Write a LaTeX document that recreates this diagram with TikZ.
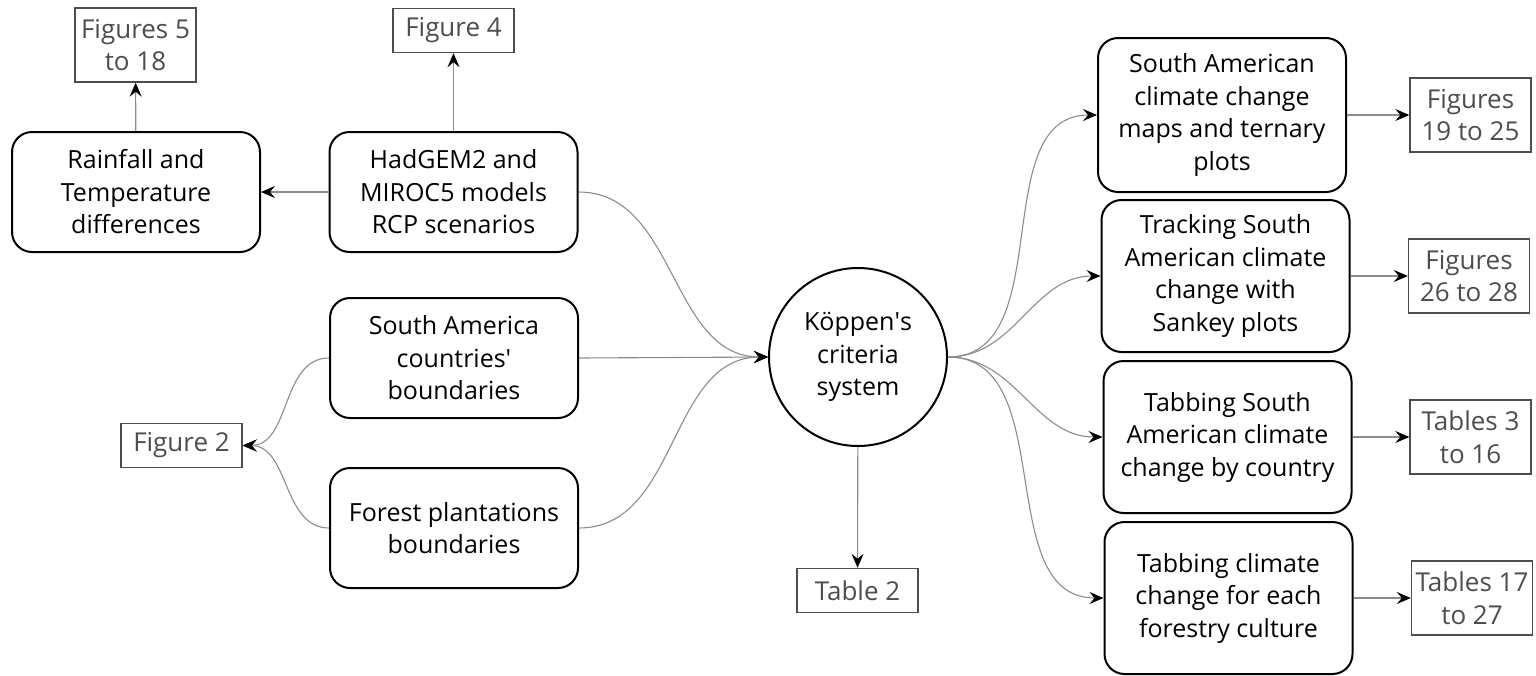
\documentclass[tikz,border=0pt]{standalone}
\usepackage{fontspec}
\setmainfont{Open Sans}
\usetikzlibrary{arrows.meta}

\definecolor{linegray}{HTML}{8C8C8C}
\definecolor{refgray}{HTML}{4D4D4D}
\newcommand{\mainsize}{\fontsize{12.5}{16.25}\selectfont}
\newcommand{\refsize}{\fontsize{13}{16.25}\selectfont}

\begin{document}
\begin{tikzpicture}[x=0.5pt,y=-0.5pt,
proc/.style={draw=black, line width=1pt, rounded corners=10pt, align=center, minimum width=124pt, inner sep=2pt, font=\mainsize},
ref/.style={draw=refgray, line width=0.7pt, text=refgray, align=center, minimum width=60.5pt, inner sep=1pt, font=\refsize},
link/.style={draw=linegray, line width=0.55pt, -{Stealth[black,length=7pt,width=6pt,inset=2.5pt]}}]
\useasboundingbox (0,0) rectangle (1536,675);

% left part
\node [ref, minimum height=37pt] (fig518) at (135.5,45) {Figures 5\\to 18};
\node [ref, minimum height=22pt] (fig4) at (453.5,30.5) {Figure 4};
\node [proc, minimum height=60pt] (rain) at (136,192) {Rainfall and\\Temperature\\differences};
\node [proc, minimum height=60pt] (hadgem) at (453.5,192) {HadGEM2 and\\MIROC5 models\\RCP scenarios};
\node [proc, minimum height=60pt] (sabound) at (454,358) {South America\\countries\textquotesingle\\boundaries};
\node [proc, minimum height=60pt] (forest) at (454,528) {Forest plantations\\boundaries};
\node [ref, minimum height=22pt] (fig2) at (181.5,445.5) {Figure 2};

% centre
\node [draw, circle, line width=1pt, minimum size=89pt, inner sep=0pt, align=center, font=\mainsize] (koppen) at (858,357) {K\"oppen\textquotesingle s\\criteria\\system};
\node [ref, minimum height=22pt] (tab2) at (857.5,590.5) {Table 2};

% right part
\node [proc, minimum height=77pt] (samaps) at (1222,115) {South American\\climate change\\maps and ternary\\plots};
\node [proc, minimum height=76pt] (track) at (1225.5,276) {Tracking South\\American climate\\change with\\Sankey plots};
\node [proc, minimum height=76pt] (tabsa) at (1227.5,437) {Tabbing South\\American climate\\change by country};
\node [proc, minimum height=76pt] (tabclim) at (1228.5,598) {Tabbing climate\\change for each\\forestry culture};
\node [ref, minimum height=37pt] (fig1925) at (1470.5,115) {Figures\\19 to 25};
\node [ref, minimum height=37pt] (fig2628) at (1469,276) {Figures\\26 to 28};
\node [ref, minimum height=37pt] (tab316) at (1470.5,437) {Tables 3\\to 16};
\node [ref, minimum height=37pt] (tab1727) at (1472,598) {Tables 17\\to 27};

% connectors
\draw[link] (hadgem) -- (rain);
\draw[link] (rain) -- (fig518);
\draw[link] (hadgem) -- (fig4);
\draw[link] (sabound.west) to[out=180,in=0] (fig2.east);
\draw[link] (forest.west) to[out=180,in=0] (fig2.east);
\draw[link] (hadgem.east) to[out=0,in=180] (koppen.west);
\draw[link] (sabound.east) -- (koppen.west);
\draw[link] (forest.east) to[out=0,in=180] (koppen.west);
\draw[link] (koppen) -- (tab2);
\foreach \b/\r in {samaps/fig1925, track/fig2628, tabsa/tab316, tabclim/tab1727} {
  \draw[link] (koppen.east) to[out=0,in=180] (\b.west);
  \draw[link] (\b) -- (\r);
}
\end{tikzpicture}
\end{document}
